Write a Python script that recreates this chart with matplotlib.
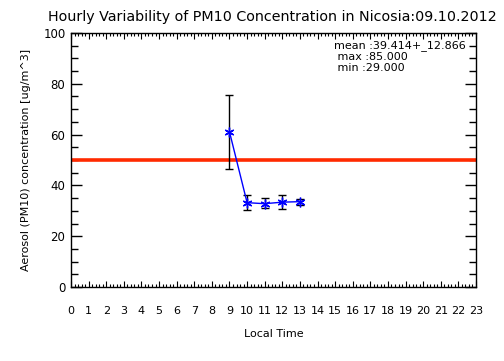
import numpy as np
import matplotlib
matplotlib.use("Agg")
import matplotlib.pyplot as plt
from matplotlib.ticker import MultipleLocator

# data
hours = [9, 10, 11, 12, 13]
pm10 = [61.1, 33.2, 32.8, 33.4, 33.6]
err_low = [46.3, 30.4, 31.0, 30.7, 32.3]
err_high = [75.4, 36.3, 35.0, 36.2, 34.7]
limit_value = 50
stats_text = "mean :39.414+_12.866\n max :85.000\n min :29.000"
title = "Hourly Variability of PM10 Concentration in Nicosia:09.10.2012"
xticks = list(range(0, 24))

plt.rcParams['font.family'] = 'DejaVu Sans'

fig = plt.figure(figsize=(5.04, 3.61), dpi=100, facecolor='white')
ax = fig.add_axes([71 / 504, 74 / 361, 405 / 504, 254 / 361])

ax.axhline(limit_value, color='#ff2a00', linewidth=2.6, zorder=2)

yerr = [np.array(pm10) - np.array(err_low), np.array(err_high) - np.array(pm10)]
ax.errorbar(hours, pm10, yerr=yerr, fmt='none', ecolor='black', elinewidth=1.0,
            capsize=3, capthick=1.0, zorder=3)
ax.plot(hours, pm10, color='blue', linewidth=1.0, marker=(6, 2, 0),
        markersize=7, markeredgewidth=1.0, zorder=4)

ax.set_xlim(0, 23)
ax.set_ylim(0, 100)
ax.set_xticks(xticks)
ax.set_xticklabels([str(h) for h in xticks], fontsize=8)
ax.xaxis.set_minor_locator(MultipleLocator(0.2))
ax.yaxis.set_major_locator(MultipleLocator(20))
ax.yaxis.set_minor_locator(MultipleLocator(5))
ax.tick_params(axis='y', which='major', direction='in', length=8, width=1,
               right=True, labelsize=8.5, pad=4)
ax.tick_params(axis='y', which='minor', direction='in', length=5, width=1, right=True)
ax.tick_params(axis='x', which='major', direction='in', length=4, width=0.8,
               top=True, pad=14)
ax.tick_params(axis='x', which='minor', direction='in', length=2, width=0.8, top=True)
for spine in ax.spines.values():
    spine.set_linewidth(1.0)

ax.set_xlabel('Local Time', fontsize=8, labelpad=9)
ax.set_ylabel('Aerosol (PM10) concentration [ug/m^3]', fontsize=8, labelpad=9)
fig.text(272 / 504, 1 - 17 / 361, title, ha='center', va='center', fontsize=10.3)
fig.text(334 / 504, 1 - 40 / 361, stats_text, ha='left', va='top', fontsize=8,
         linespacing=1.15)

fig.savefig('out.png', dpi=100, facecolor='white')
